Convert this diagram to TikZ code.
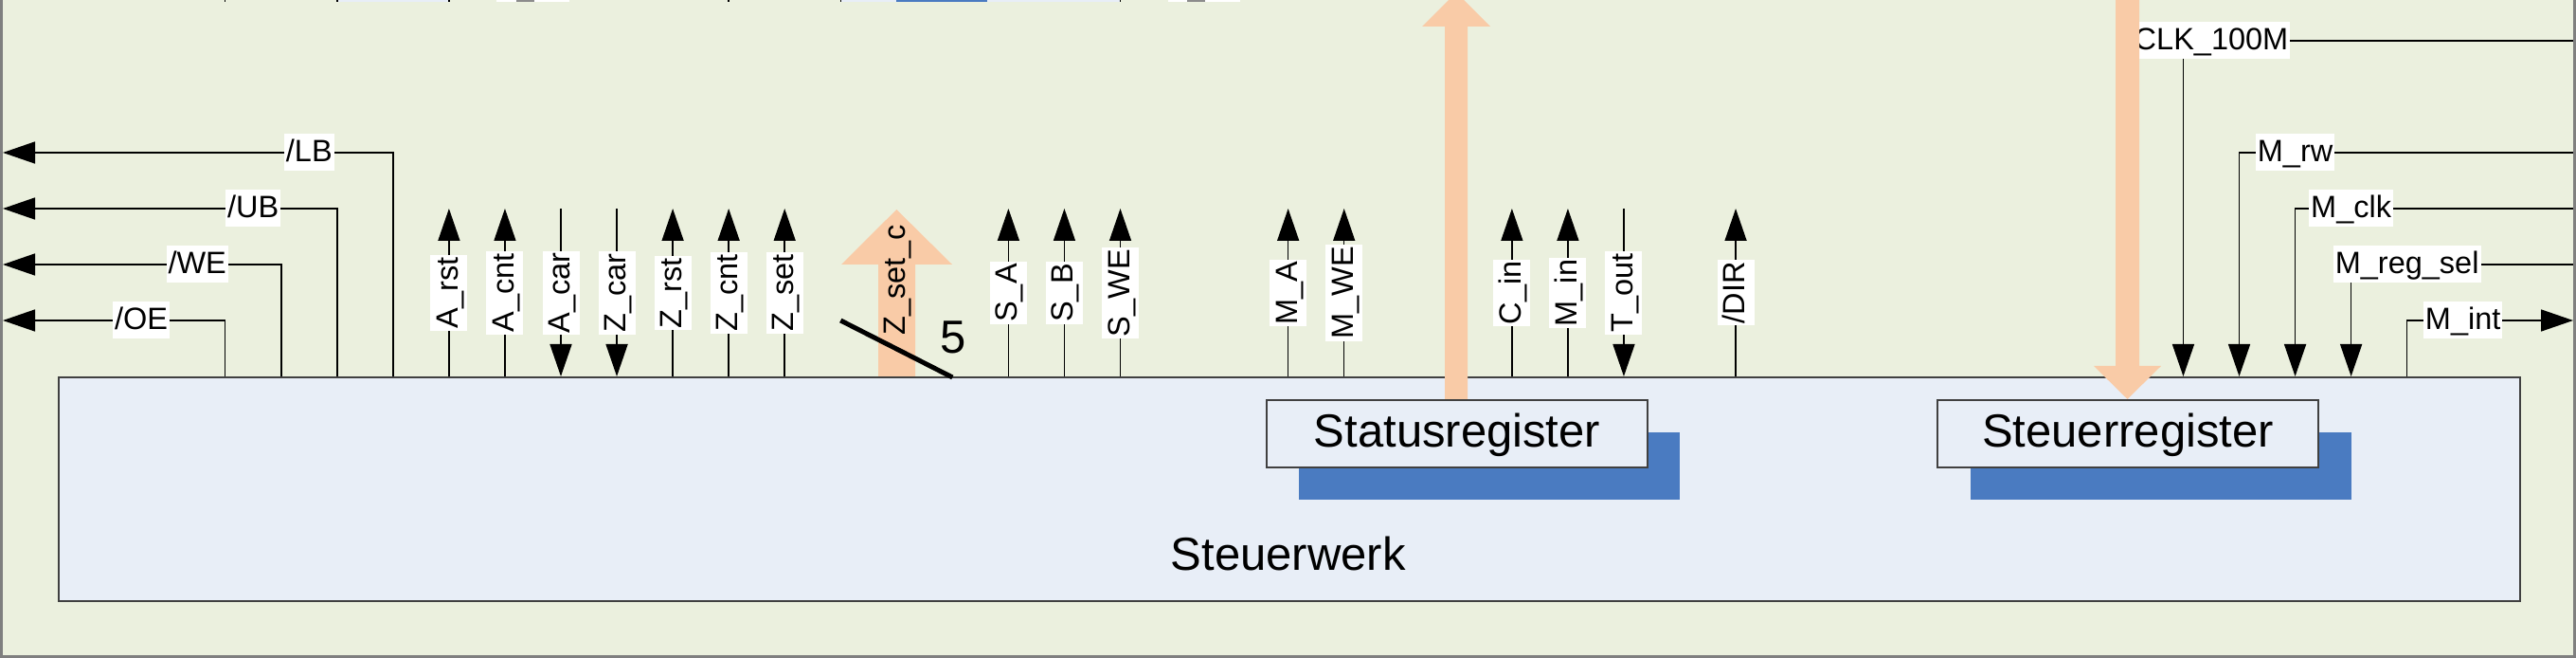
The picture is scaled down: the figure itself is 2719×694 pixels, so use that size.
\documentclass[tikz,border=0pt]{standalone}
\usepackage{fontspec}
\setmainfont{Liberation Sans}
\usetikzlibrary{arrows.meta}
\definecolor{bggreen}{HTML}{EBF0DE}
\definecolor{boxblue}{HTML}{E8EEF7}
\definecolor{shadowblue}{HTML}{4A7BC1}
\definecolor{peach}{HTML}{F9CBA7}
\definecolor{framegrey}{HTML}{7F7F7F}
\definecolor{edgegrey}{HTML}{404040}
\definecolor{fraggrey}{HTML}{8C8C8C}
\tikzset{
  sig/.style={line width=0.75pt, draw=black},
  tip/.style={-{Triangle[length=17pt,width=11.5pt]}},
  lblfont/.style={font=\fontsize{16.25pt}{19pt}\selectfont},
  lbl/.style={lblfont, fill=white, inner xsep=1pt, inner ysep=1pt, text height=13.5pt, text depth=4pt},
  vlbl/.style={lbl, rotate=90},
  big/.style={font=\fontsize{24.5pt}{29pt}\selectfont},
  reg/.style={draw=edgegrey, line width=1pt, fill=boxblue, minimum width=201pt, inner sep=0pt, text height=25pt, text depth=10.5pt, big},
  shadowbox/.style={fill=shadowblue, minimum width=201pt, minimum height=35.5pt, inner sep=0pt},
  bigarrow/.style={fill=peach, draw=none},
}
\begin{document}
\begin{tikzpicture}[x=0.5pt,y=-0.5pt]
\useasboundingbox (0,0) rectangle (2719,694);
\clip (0,0) rectangle (2719,694);
% background and frame
\fill[bggreen] (0,0) rectangle (2719,694);
\draw[framegrey,line width=1.25pt] (1.5,-5) -- (1.5,692.5) -- (2717.5,692.5) -- (2717.5,-5);
% fragments at the top edge
\draw[sig] (237.7,-2) -- (237.7,2.5);
\fill[boxblue] (355.8,-2) rectangle (473.9,2.5);
\draw[sig] (355.8,-2) -- (355.8,2.5) (473.9,-2) -- (473.9,2.5);
\fill[white] (524,-2) rectangle (601,2.5);
\fill[fraggrey] (545,-2) rectangle (564,2.5);
\draw[sig] (769.15,-2) -- (769.15,2.5);
\fill[boxblue] (887.25,-2) rectangle (1182.5,2.5);
\fill[shadowblue] (946,-2) rectangle (1042,2.5);
\draw[sig] (887.25,-2) -- (887.25,2.5) (1182.5,-2) -- (1182.5,2.5);
\fill[white] (1233,-2) rectangle (1309,2.5);
\fill[fraggrey] (1253,-2) rectangle (1272,2.5);
% Steuerwerk
\node[draw=edgegrey, line width=1pt, fill=boxblue, minimum width=1299pt, minimum height=118pt, inner sep=0pt, anchor=north west] (sw) at (60.55,397) {};
\node[big, anchor=base] (swlbl) at (1359.65,602) {Steuerwerk};
% registers
\node[shadowbox, anchor=north west] (stsh) at (1371,456) {};
\node[reg, anchor=north west] (status) at (1336,421) {Statusregister};
\node[shadowbox, anchor=north west] (scsh) at (2080,456) {};
\node[reg, anchor=north west] (steuer) at (2044,421) {Steuerregister};
% left signals
\foreach \nm/\x/\y/\lx/\txt in {OE/237.7/338/149.1/{/OE}, WE/296.75/279/208.2/{/WE}, UB/355.8/220/267.2/{/UB}, LB/414.85/161/326.3/{/LB}}{
  \coordinate (b\nm) at (\x,397);
  \coordinate (e\nm) at (3,\y);
  \draw[sig,tip] (b\nm) |- (e\nm);
  \node[lbl] (l\nm) at (\lx,\y) {\txt};
}
% vertical signals going up
\foreach \nm/\x/\txt in {arst/473.9/A\_rst, acnt/532.95/A\_cnt, zrst/710.1/Z\_rst, zcnt/769.15/Z\_cnt, zset/828.2/Z\_set, sa/1064.4/S\_A, sb/1123.45/S\_B, swe/1182.5/S\_WE, ma/1359.65/M\_A, mwe/1418.7/M\_WE, cin/1595.85/C\_in, min/1654.9/M\_in, dir/1832.05/{/DIR}}{
  \coordinate (b\nm) at (\x,397);
  \coordinate (t\nm) at (\x,220);
  \draw[sig,tip] (b\nm) -- (t\nm);
  \node[vlbl] (l\nm) at (\x,309) {\txt};
}
% vertical signals going down
\foreach \nm/\x/\txt in {acar/592/A\_car, zcar/651.05/Z\_car, tout/1713.95/T\_out}{
  \coordinate (b\nm) at (\x,397);
  \coordinate (t\nm) at (\x,220);
  \draw[sig,tip] (t\nm) -- (b\nm);
  \node[vlbl] (l\nm) at (\x,309) {\txt};
}
% right signals coming in
\foreach \nm/\x/\y/\lx/\txt in {CLK/2304.45/43/2334/CLK\_100M, RW/2363.5/161/2422.55/M\_rw, MCLK/2422.55/220/2481.6/M\_clk, RS/2481.6/279/2540.65/M\_reg\_sel}{
  \coordinate (e\nm) at (2716,\y);
  \coordinate (b\nm) at (\x,397);
  \draw[sig,tip] (e\nm) -| (b\nm);
  \node[lbl] (l\nm) at (\lx,\y) {\txt};
}
% M_int going out
\coordinate (bINT) at (2540.65,397);
\coordinate (eINT) at (2716,338);
\draw[sig,tip] (bINT) |- (eINT);
\node[lbl] (lINT) at (2599.7,338) {M\_int};
% big peach arrows
\fill[bigarrow] (1525,421) -- (1525,28) -- (1501,28) -- (1537,-8) -- (1573,28) -- (1549,28) -- (1549,421) -- cycle;
\fill[bigarrow] (2233,-20) -- (2233,386) -- (2210,386) -- (2245.5,421) -- (2281,386) -- (2258,386) -- (2258,-20) -- cycle;
\fill[bigarrow] (927,397) -- (927,279) -- (888,279) -- (946.3,221) -- (1005,279) -- (966,279) -- (966,397) -- cycle;
% bus marker
\coordinate (slA) at (887.25,338);
\coordinate (slB) at (1005.35,398);
\draw[line width=2.5pt] (slA) -- (slB);
\node[lblfont, rotate=90, inner sep=1pt, text height=13.5pt, text depth=4pt] (zsetc) at (946.3,295.5) {Z\_set\_c};
\node[font=\fontsize{24.5pt}{29pt}\selectfont, inner sep=0pt] (five) at (1006,355.5) {5};
\end{tikzpicture}
\end{document}
